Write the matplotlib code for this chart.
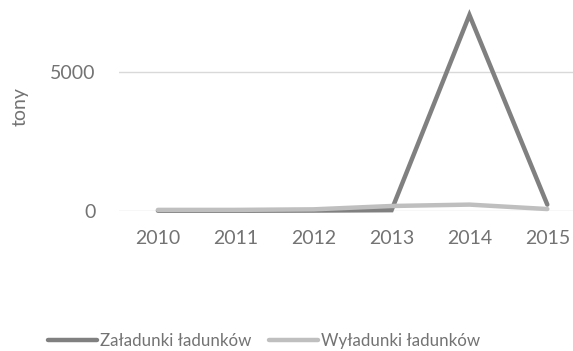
import matplotlib.pyplot as plt

# ============ DATA ============
years = ["2010", "2011", "2012", "2013", "2014", "2015"]
zaladunki = [10, 10, 15, 30, 7050, 230]     # tony
wyladunki = [40, 40, 60, 180, 230, 70]      # tony
y_ticks = [0, 5000]

DARK = "#808080"
LIGHT = "#bfbfbf"
TEXT = "#737373"
GRID = "#d9d9d9"

plt.rcParams["font.family"] = ["Lato", "DejaVu Sans"]

fig = plt.figure(figsize=(5.73, 3.51), dpi=100)
ax = fig.add_axes([119 / 573, 1 - 211 / 351, 1 - 119 / 573, 208.5 / 351])

x = range(len(years))
ax.plot(x, zaladunki, color=DARK, lw=3.2, solid_capstyle="round",
        solid_joinstyle="miter", clip_on=False, label="Załadunki ładunków")
ax.plot(x, wyladunki, color=LIGHT, lw=3.2, solid_capstyle="round",
        solid_joinstyle="miter", clip_on=False, label="Wyładunki ładunków")

ax.set_xlim(-0.5, 5.33)
ax.set_ylim(0, 7500)
ax.set_yticks(y_ticks)
ax.set_xticks(list(x))
ax.set_xticklabels(years)
ax.yaxis.grid(True, color=GRID, lw=1)
ax.set_axisbelow(True)
for s in ax.spines.values():
    s.set_visible(False)
ax.tick_params(length=0, colors=TEXT, labelsize=14)
ax.tick_params(axis="y", pad=17)
ax.tick_params(axis="x", pad=14)

ax.set_ylabel("tony", color=TEXT, fontsize=14, labelpad=15)

# legend sits under the plot, a bit left of the figure centre
leg = fig.legend(loc="center", bbox_to_anchor=(264 / 573, 1 - 341 / 351), ncol=2,
                 frameon=False, fontsize=12.2, handlelength=2.9, handletextpad=0.2,
                 columnspacing=1.0, labelcolor=TEXT)

fig.savefig("out.png", dpi=100)
